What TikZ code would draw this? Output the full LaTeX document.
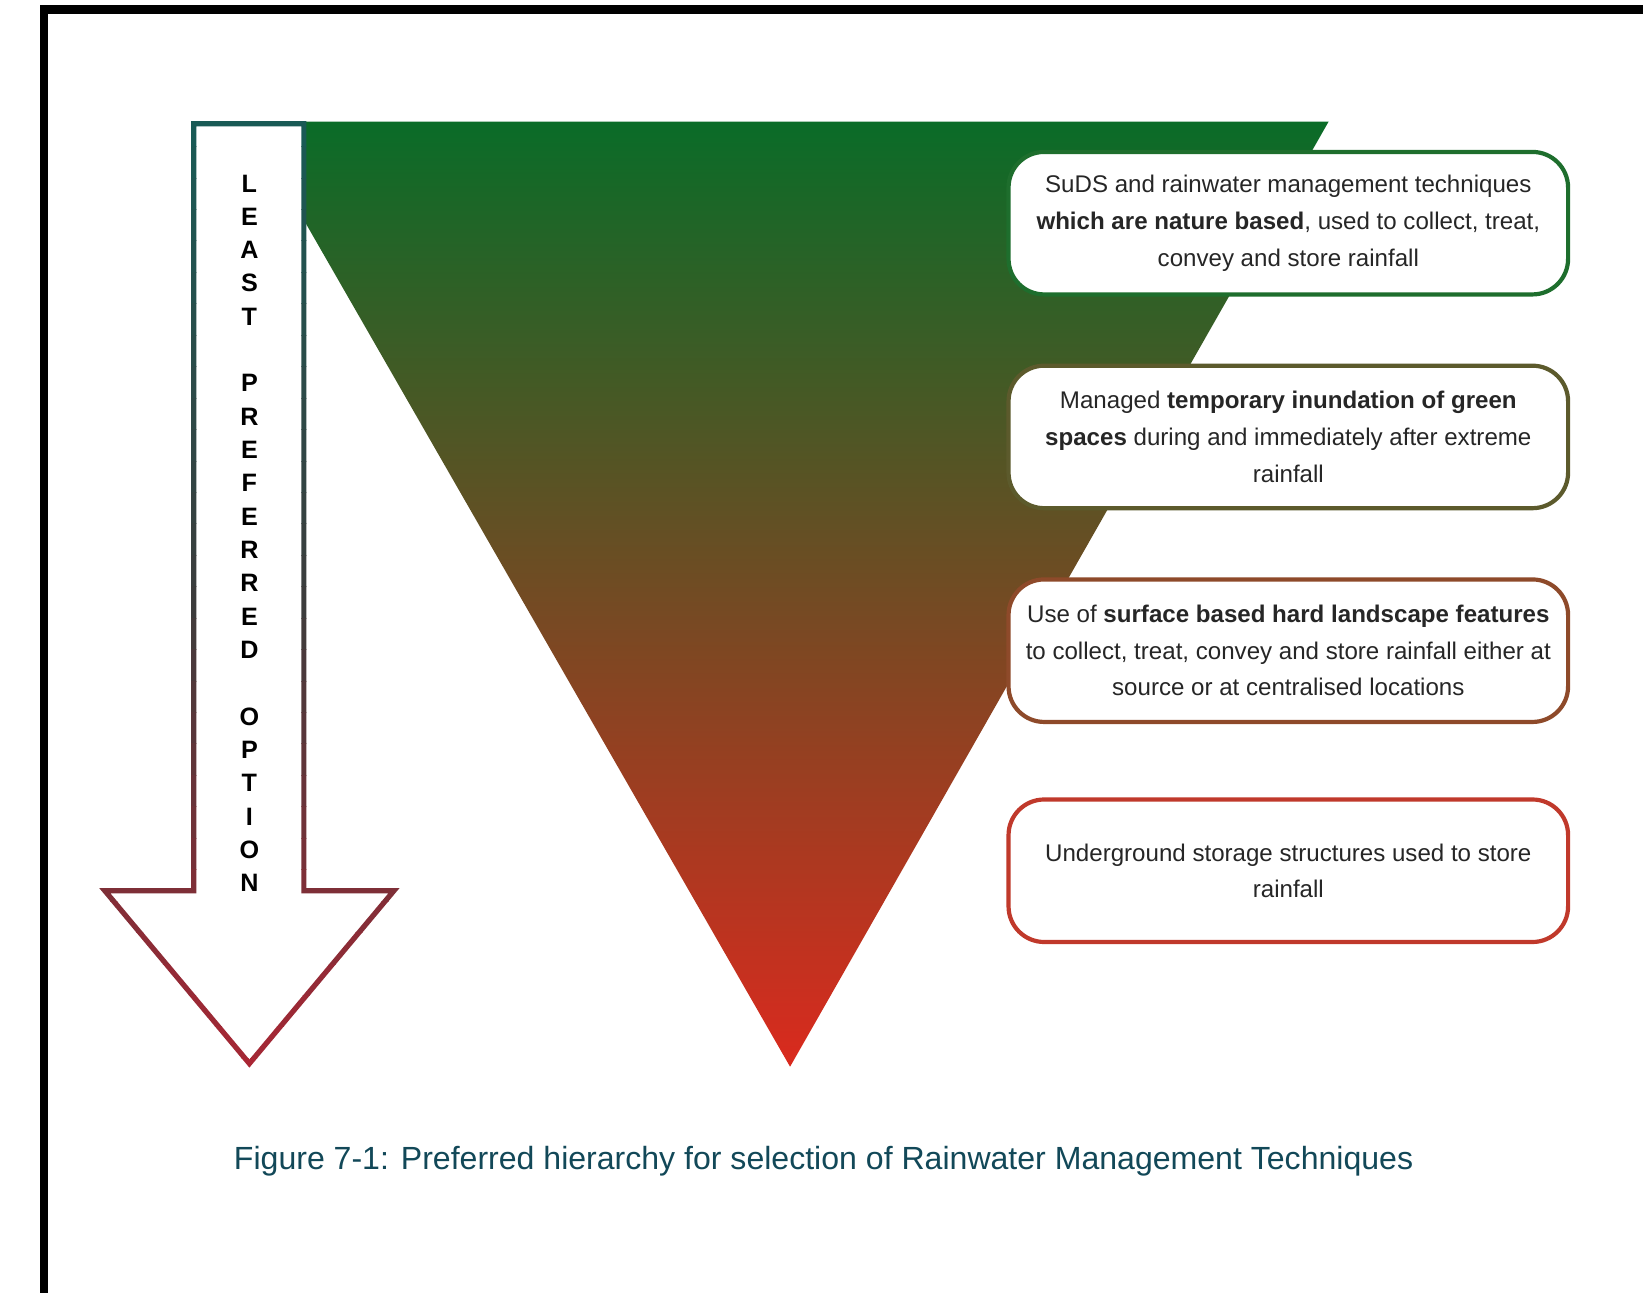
\documentclass[tikz,border=0pt]{standalone}
\usepackage{fontspec}
\setmainfont{Liberation Sans}
\usetikzlibrary{positioning}

\definecolor{trigreen}{RGB}{10,108,40}
\definecolor{tribrown}{RGB}{112,78,36}
\definecolor{trired}{RGB}{218,42,30}
\definecolor{arrtop}{RGB}{25,90,85}
\definecolor{arrmid}{RGB}{60,60,60}
\definecolor{arrbot}{RGB}{170,38,52}
\definecolor{boxa}{RGB}{30,110,45}
\definecolor{boxb}{RGB}{92,90,44}
\definecolor{boxc}{RGB}{142,74,42}
\definecolor{boxd}{RGB}{192,57,43}
\definecolor{captext}{RGB}{18,72,88}

\tikzset{
  option/.style={draw=#1, line width=2pt, fill=white, rounded corners=17pt,
    minimum width=267pt, minimum height=68pt, align=center, inner sep=2pt,
    text=black!85, font=\fontsize{11.5}{17.5}\selectfont},
  letter/.style={font=\fontsize{12}{12}\selectfont\bfseries, inner sep=0pt},
  caption/.style={font=\fontsize{15.3}{18}\selectfont, text=captext}
}

\begin{document}
\begin{tikzpicture}[x=0.5pt,y=-0.5pt,node distance=32pt]
  \useasboundingbox (0,0) rectangle (1568,1234);

  % frame
  \fill[black] (38,5) rectangle (1568,13);
  \fill[black] (38,5) rectangle (46,1234);

  % hierarchy triangle
  \shade[top color=trigreen, middle color=tribrown, bottom color=trired]
    (236,116) -- (1268,116) -- (754,1018) -- cycle;

  % arrow
  \fill[white] (185,118) -- (290,118) -- (290,850) -- (376,850) -- (238,1015)
    -- (100,850) -- (185,850) -- cycle;
  \foreach \i in {0,...,30}{
    \ifnum\i<16
      \pgfmathtruncatemacro\p{\i*100/15}
      \colorlet{arrc}{arrmid!\p!arrtop}
    \else
      \pgfmathtruncatemacro\p{(\i-15)*100/15}
      \colorlet{arrc}{arrbot!\p!arrmid}
    \fi
    \begin{scope}
      \clip (80,110+\i*30) rectangle (400,140+\i*30);
      \draw[arrc, line width=2.5pt] (185,118) -- (290,118) -- (290,850)
        -- (376,850) -- (238,1015) -- (100,850) -- (185,850) -- cycle;
    \end{scope}
  }
  \foreach \letr [count=\k from 0] in {L,E,A,S,T,{},P,R,E,F,E,R,R,E,D,{},O,P,T,I,O,N}
    \node[letter] (lt-\k) at (238,175+\k*31.8) {\letr};

  % options
  \node[option=boxa] (opt-a) at (1229.5,213)
    {SuDS and rainwater management techniques\\
     \textbf{which are nature based}, used to collect, treat,\\
     convey and store rainfall};
  \node[option=boxb, below=of opt-a] (opt-b)
    {Managed \textbf{temporary inundation of green}\\
     \textbf{spaces} during and immediately after extreme\\
     rainfall};
  \node[option=boxc, below=of opt-b] (opt-c)
    {Use of \textbf{surface based hard landscape features}\\
     to collect, treat, convey and store rainfall either at\\
     source or at centralised locations};
  \node[option=boxd, below=35pt of opt-c] (opt-d)
    {Underground storage structures used to store\\
     rainfall};

  \node[caption] (cap) at (786,1108)
    {Figure 7-1: Preferred hierarchy for selection of Rainwater Management Techniques};
\end{tikzpicture}
\end{document}
